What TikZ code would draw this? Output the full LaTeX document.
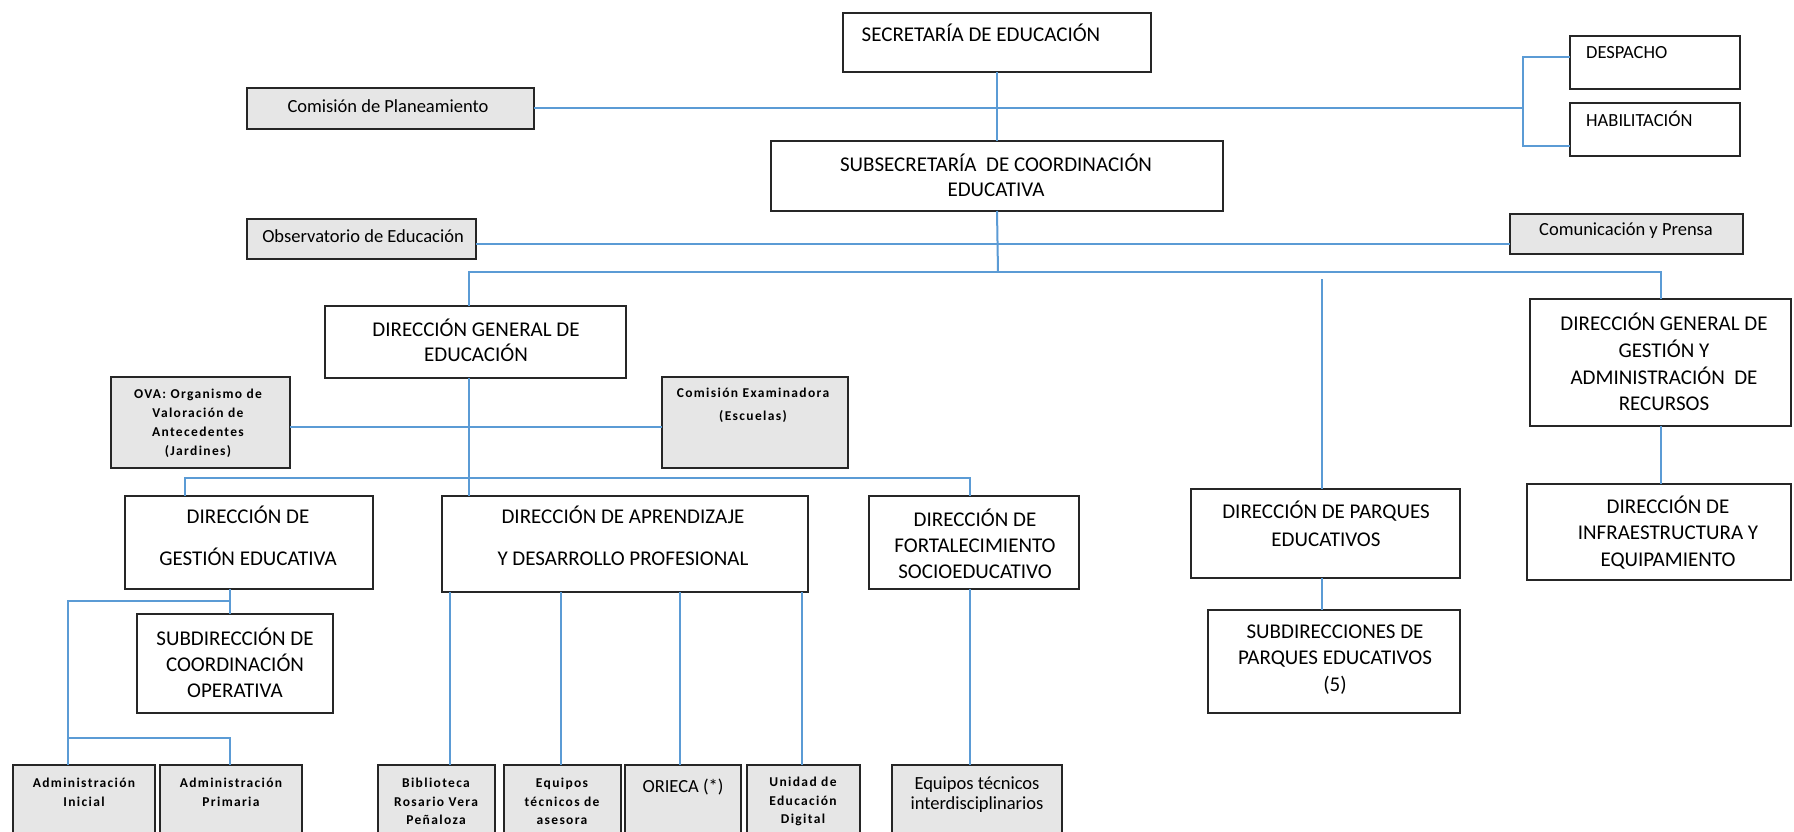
\documentclass[tikz,border=0pt]{standalone}
\usepackage{fontspec}
\setmainfont{Carlito}
\definecolor{linkblue}{HTML}{5B9BD5}
\definecolor{boxgray}{HTML}{E6E6E6}
\newcommand\tinyfont[1]{\fontsize{13.5}{#1}\selectfont\bfseries\addfontfeature{LetterSpace=10}}
\tikzset{
  box/.style={draw=black!85, line width=2.6pt, fill=white, inner sep=0pt, outer sep=0pt, anchor=north west},
  gbox/.style={box, fill=boxgray},
  big/.style={font=\fontsize{21}{26}\selectfont, align=center, inner sep=0pt},
  med/.style={font=\fontsize{18.5}{20}\selectfont, align=center, inner sep=0pt},
  tiny/.style={font=\tinyfont{19}, align=center, inner sep=0pt},
  link/.style={draw=linkblue, line width=2pt},
}
\newcommand\obox[6]{\node[#6, minimum width={(#4-#2)*1pt}, minimum height={(#5-#3)*1pt}] (#1) at (#2,#3) {};}
\begin{document}
\begin{tikzpicture}[x=1pt,y=-1pt]
\clip (0,0) rectangle (1794,832);
\fill[white] (0,0) rectangle (1794,832);
\obox{sec}{843}{13}{1151}{72}{box}
\obox{sub}{771}{141}{1223}{211}{box}
\obox{plan}{247}{88}{534}{129}{gbox}
\obox{desp}{1570}{36}{1740}{89}{box}
\obox{habi}{1570}{103}{1740}{156}{box}
\obox{obs}{247}{219}{476}{259}{gbox}
\obox{com}{1510}{214}{1743}{254}{gbox}
\obox{dge}{325}{306}{626}{378}{box}
\obox{dgg}{1530}{299}{1791}{426}{box}
\obox{ova}{111}{377}{290}{468}{gbox}
\obox{cex}{662}{377}{848}{468}{gbox}
\obox{dgest}{125}{496}{373}{589}{box}
\obox{dapr}{442}{496}{808}{592}{box}
\obox{dfor}{869}{496}{1079}{589}{box}
\obox{dpar}{1191}{489}{1460}{578}{box}
\obox{dinf}{1527}{484}{1791}{580}{box}
\obox{scoord}{137}{614}{333}{713}{box}
\obox{spar}{1208}{610}{1460}{713}{box}
\obox{ainic}{13}{765}{155}{850}{gbox}
\obox{aprim}{160}{765}{302}{850}{gbox}
\obox{bib}{378}{765}{495}{850}{gbox}
\obox{eqa}{504}{765}{621}{850}{gbox}
\obox{ori}{625}{765}{741}{850}{gbox}
\obox{uni}{747}{765}{860}{850}{gbox}
\obox{eti}{892}{765}{1062}{850}{gbox}
% coordinates
\coordinate (jd) at (1523,57);
\coordinate (jh) at (1523,146);
\coordinate (yo) at (0,244);
\coordinate (b1) at (998,272);
\coordinate (bl) at (469,272);
\coordinate (br) at (1661,272);
\coordinate (pt) at (1322,279);
\coordinate (yova) at (0,427);
\coordinate (b2l) at (185,478);
\coordinate (b2r) at (970,478);
\coordinate (g1) at (230,601);
\coordinate (g0) at (68,601);
\coordinate (g2) at (68,738);
\coordinate (a1) at (450,0);
\coordinate (a2) at (561,0);
\coordinate (a3) at (680,0);
\coordinate (a4) at (802,0);
\coordinate (ig) at (1661,0);
% connectors
\begin{scope}[link]
\draw (sec.south) -- (sub.north);
\draw (plan.east) -- (plan.east -| jd);
\draw (jd -| desp.west) -- (jd) -- (jh) -- (jh -| habi.west);
\draw (obs.east |- yo) -- (com.west |- yo);
\draw (sub.south) -- (b1);
\draw (bl |- dge.north) -- (bl) -- (br) -- (br |- dgg.north);
\draw (pt) -- (pt |- dpar.north);
\draw (bl |- dge.south) -- (bl |- dapr.north);
\draw (ova.east |- yova) -- (cex.west |- yova);
\draw (b2l |- dgest.north) -- (b2l) -- (b2r) -- (b2r |- dfor.north);
\draw (g1 |- dgest.south) -- (g1 |- scoord.north);
\draw (g1) -- (g0) -- (g0 |- ainic.north);
\draw (g2) -- (g2 -| g1) -- (g1 |- aprim.north);
\draw (a1 |- dapr.south) -- (a1 |- bib.north);
\draw (a2 |- dapr.south) -- (a2 |- eqa.north);
\draw (a3 |- dapr.south) -- (a3 |- ori.north);
\draw (a4 |- dapr.south) -- (a4 |- uni.north);
\draw (b2r |- dfor.south) -- (b2r |- eti.north);
\draw (pt |- dpar.south) -- (pt |- spar.north);
\draw (ig |- dgg.south) -- (ig |- dinf.north);
\end{scope}
% texts
\node[big] (sec-t) at (981,33) {SECRETARÍA DE EDUCACIÓN};
\node[big, font=\fontsize{21}{25}\selectfont] (sub-t) at (996,175.5) {SUBSECRETARÍA\ \ DE COORDINACIÓN\\EDUCATIVA};
\node[med, anchor=west] (desp-t) at (1586,53) {DESPACHO};
\node[med, anchor=west] (habi-t) at (1586,119) {HABILITACIÓN};
\node[med] (plan-t) at (388,106) {Comisión de Planeamiento};
\node[med] (obs-t) at (363,236) {Observatorio de Educación};
\node[med] (com-t) at (1626,231) {Comunicación y Prensa};
\node[big, font=\fontsize{21}{25}\selectfont] (dge-t) at (476,340.5) {DIRECCIÓN GENERAL DE\\EDUCACIÓN};
\node[big, font=\fontsize{21}{26.7}\selectfont] (dgg-t) at (1664,362) {DIRECCIÓN GENERAL DE\\GESTIÓN Y\\ADMINISTRACIÓN\ \ DE\\RECURSOS};
\node[tiny] (ova-t) at (198,423) {OVA: Organismo de\\Valoración de\\Antecedentes\\(Jardines)};
\node[tiny, font=\tinyfont{23}] (cex-t) at (753,405.5) {Comisión Examinadora\\(Escuelas)};
\node[big, font=\fontsize{21}{42}\selectfont] (dgest-t) at (248,536) {DIRECCIÓN DE\\GESTIÓN EDUCATIVA};
\node[big, font=\fontsize{21}{42}\selectfont] (dapr-t) at (623,536) {DIRECCIÓN DE APRENDIZAJE\\Y DESARROLLO PROFESIONAL};
\node[big] (dfor-t) at (975,544) {DIRECCIÓN DE\\FORTALECIMIENTO\\SOCIOEDUCATIVO};
\node[big, font=\fontsize{21}{28}\selectfont] (dpar-t) at (1326,524) {DIRECCIÓN DE PARQUES\\EDUCATIVOS};
\node[big, font=\fontsize{21}{26.5}\selectfont] (dinf-t) at (1668,532.5) {DIRECCIÓN DE\\INFRAESTRUCTURA Y\\EQUIPAMIENTO};
\node[big] (scoord-t) at (235,663) {SUBDIRECCIÓN DE\\COORDINACIÓN\\OPERATIVA};
\node[big, font=\fontsize{21}{26.5}\selectfont] (spar-t) at (1335,659.5) {SUBDIRECCIONES DE\\PARQUES EDUCATIVOS\\(5)};
\node[tiny] (ainic-t) at (84,792.5) {Administración\\Inicial};
\node[tiny] (aprim-t) at (231,792.5) {Administración\\Primaria};
\node[tiny, font=\tinyfont{18.5}] (bib-t) at (436,801.5) {Biblioteca\\Rosario Vera\\Peñaloza};
\node[tiny, font=\tinyfont{18.5}] (eqa-t) at (562,801.5) {Equipos\\técnicos de\\asesora};
\node[med] (ori-t) at (683,787) {ORIECA (*)};
\node[tiny, font=\tinyfont{18.5}] (uni-t) at (803,801.5) {Unidad de\\Educación\\Digital};
\node[med] (eti-t) at (977,795) {Equipos técnicos\\interdisciplinarios};
\end{tikzpicture}
\end{document}
